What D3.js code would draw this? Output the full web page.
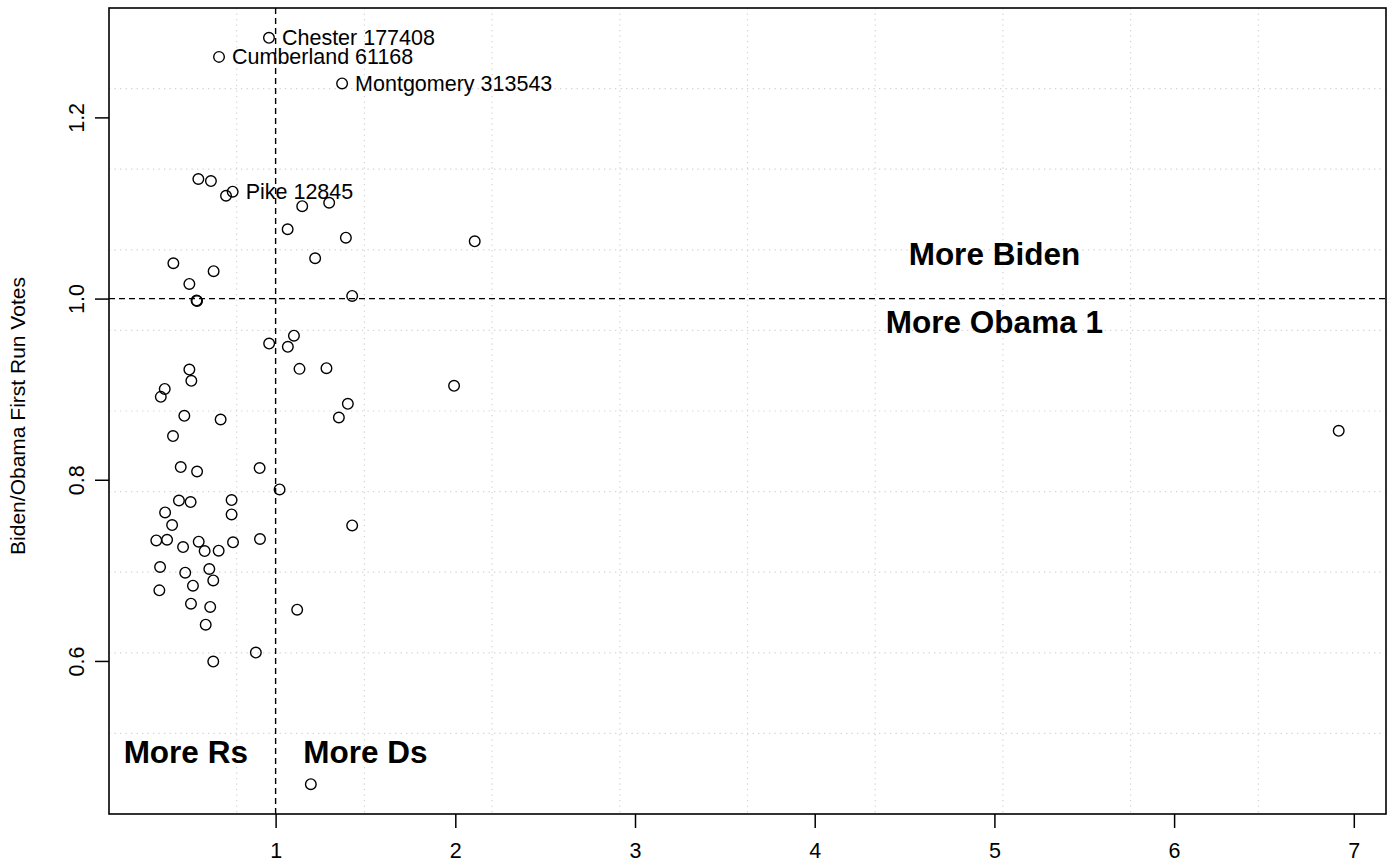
<!DOCTYPE html>
<html>
<head>
<meta charset="utf-8">
<script src="https://cdn.jsdelivr.net/npm/d3@7"></script>
<style>
  html, body { margin: 0; padding: 0; background: #fff; }
  svg { display: block; font-family: "Liberation Sans", Arial, Helvetica, sans-serif; }
</style>
</head>
<body>
<svg id="chart" width="1388" height="862"></svg>
<script>
// Dem/Rep registration ratio (x) vs Biden/Obama first-run votes (y)
const xVals = [0.963, 0.685, 1.370, 0.570, 0.640, 0.761, 0.724, 1.148, 1.298,
  1.067, 1.391, 2.108, 1.220, 0.431, 0.655, 0.520, 0.560, 0.563, 1.426,
  1.102, 0.964, 1.068, 0.520, 1.133, 1.283, 0.531, 0.383, 0.361, 1.993,
  1.402, 0.492, 0.694, 1.352, 0.429, 6.916, 0.472, 0.563, 0.911,
  1.022, 0.462, 0.527, 0.755, 0.755, 0.385, 1.426, 0.424, 0.336, 0.396,
  0.572, 0.763, 0.913, 0.485, 0.605, 0.683, 0.357, 0.631, 0.497, 0.653,
  0.540, 0.353, 0.529, 0.636, 1.120, 0.611, 0.890, 0.653, 1.196];
const yVals = [1.2878, 1.2668, 1.2375, 1.132, 1.1297, 1.118, 1.1135, 1.102, 1.1058,
  1.0765, 1.0672, 1.0632, 1.0445, 1.039, 1.0302, 1.0162, 0.9980, 0.9972, 1.0029,
  0.959, 0.9503, 0.9467, 0.9216, 0.9224, 0.9232, 0.9092, 0.9003, 0.8915, 0.9037,
  0.8838, 0.8706, 0.8665, 0.8687, 0.8482, 0.854, 0.814, 0.8091, 0.8129,
  0.7893, 0.7771, 0.7754, 0.7776, 0.7617, 0.7639, 0.7496, 0.7500, 0.733, 0.7338,
  0.7316, 0.7309, 0.7346, 0.7257, 0.7213, 0.7217, 0.7037, 0.7015, 0.6974, 0.6889,
  0.6831, 0.6779, 0.6632, 0.6596, 0.6566, 0.640, 0.6092, 0.5993, 0.464];

// labelled counties
const labelNames = ["Chester 177408", "Cumberland 61168", "Montgomery 313543", "Pike 12845"];
const labelX = [0.963, 0.685, 1.370, 0.761];
const labelY = [1.2878, 1.2668, 1.2375, 1.118];

const xTicks = [1, 2, 3, 4, 5, 6, 7];
const yTicks = [0.6, 0.8, 1.0, 1.2];

const annoText = ["More Biden", "More Obama 1", "More Rs", "More Ds"];
const annoX = [5, 5, 0.5, 1.5];
const annoY = [1.05, 0.975, 0.5, 0.5];

const yTitle = "Biden/Obama First Run Votes";

const svg = d3.select("#chart");
const L = 109, R = 1386, T = 8, B = 814;

function padded(ext) {
  const w = ext[1] - ext[0];
  return [ext[0] - 0.04 * w, ext[1] + 0.04 * w];
}
const x = d3.scaleLinear().domain(padded(d3.extent(xVals))).range([L, R]);
const y = d3.scaleLinear().domain(padded(d3.extent(yVals))).range([B, T]);

svg.append("rect").attr("width", 1388).attr("height", 862).attr("fill", "#fff");

// grid: 10 equal divisions of the plot region
const gx = d3.range(1, 10).map(i => L + i * (R - L) / 10);
const gy = d3.range(1, 10).map(i => T + i * (B - T) / 10);
const grid = svg.append("g").attr("stroke", "#d3d3d3").attr("stroke-width", 1.2)
  .attr("stroke-dasharray", "1.3,4.2");
grid.selectAll("line.gx").data(gx).join("line").attr("class", "gx")
  .attr("x1", d => d).attr("x2", d => d).attr("y1", T).attr("y2", B);
grid.selectAll("line.gy").data(gy).join("line").attr("class", "gy")
  .attr("y1", d => d).attr("y2", d => d).attr("x1", L).attr("x2", R);

// reference lines
svg.append("line").attr("x1", x(1)).attr("x2", x(1)).attr("y1", T).attr("y2", B)
  .attr("stroke", "#000").attr("stroke-width", 1.4).attr("stroke-dasharray", "6,4");
svg.append("line").attr("x1", L).attr("x2", R).attr("y1", y(1)).attr("y2", y(1))
  .attr("stroke", "#000").attr("stroke-width", 1.4).attr("stroke-dasharray", "6,4");

// axes
const xAxis = d3.axisBottom(x).tickValues(xTicks).tickSize(14).tickPadding(15)
  .tickFormat(d3.format("d"));
const gX = svg.append("g").attr("transform", `translate(0,${B})`).call(xAxis);
gX.select(".domain").remove();
gX.selectAll("line").attr("stroke", "#000").attr("stroke-width", 1.5);
gX.selectAll("text").attr("font-size", 21.5).attr("fill", "#000")
  .attr("font-family", "'Liberation Sans', Arial, Helvetica, sans-serif");

const yAxis = d3.axisLeft(y).tickValues(yTicks).tickSize(14).tickFormat(d3.format(".1f"));
const gY = svg.append("g").attr("transform", `translate(${L},0)`).call(yAxis);
gY.select(".domain").remove();
gY.selectAll("line").attr("stroke", "#000").attr("stroke-width", 1.5);
gY.selectAll(".tick text").attr("font-size", 21.5).attr("fill", "#000")
  .attr("font-family", "'Liberation Sans', Arial, Helvetica, sans-serif")
  .attr("text-anchor", "middle").attr("dy", 0)
  .attr("x", 0).attr("y", 0)
  .attr("transform", "translate(-25,0) rotate(-90)");

// box
svg.append("rect").attr("x", L).attr("y", T).attr("width", R - L).attr("height", B - T)
  .attr("fill", "none").attr("stroke", "#000").attr("stroke-width", 1.6);

// y title
svg.append("text").attr("transform", `translate(25,${(T + B) / 2 + 5}) rotate(-90)`)
  .attr("text-anchor", "middle").attr("font-size", 21).text(yTitle);

// points
svg.append("g").selectAll("circle").data(xVals.map((v, i) => [v, yVals[i]])).join("circle")
  .attr("cx", d => x(d[0])).attr("cy", d => y(d[1])).attr("r", 5.3)
  .attr("fill", "none").attr("stroke", "#000").attr("stroke-width", 1.4);

// point labels
svg.append("g").selectAll("text").data(labelNames).join("text")
  .attr("x", (d, i) => x(labelX[i]) + 13).attr("y", (d, i) => y(labelY[i]))
  .attr("dy", "0.35em").attr("font-size", 21.5).text(d => d);

// annotations
svg.append("g").selectAll("text").data(annoText).join("text")
  .attr("x", (d, i) => x(annoX[i])).attr("y", (d, i) => y(annoY[i]))
  .attr("dy", "0.36em").attr("text-anchor", "middle")
  .attr("font-size", 31.5).attr("font-weight", "bold").text(d => d);
</script>
</body>
</html>
